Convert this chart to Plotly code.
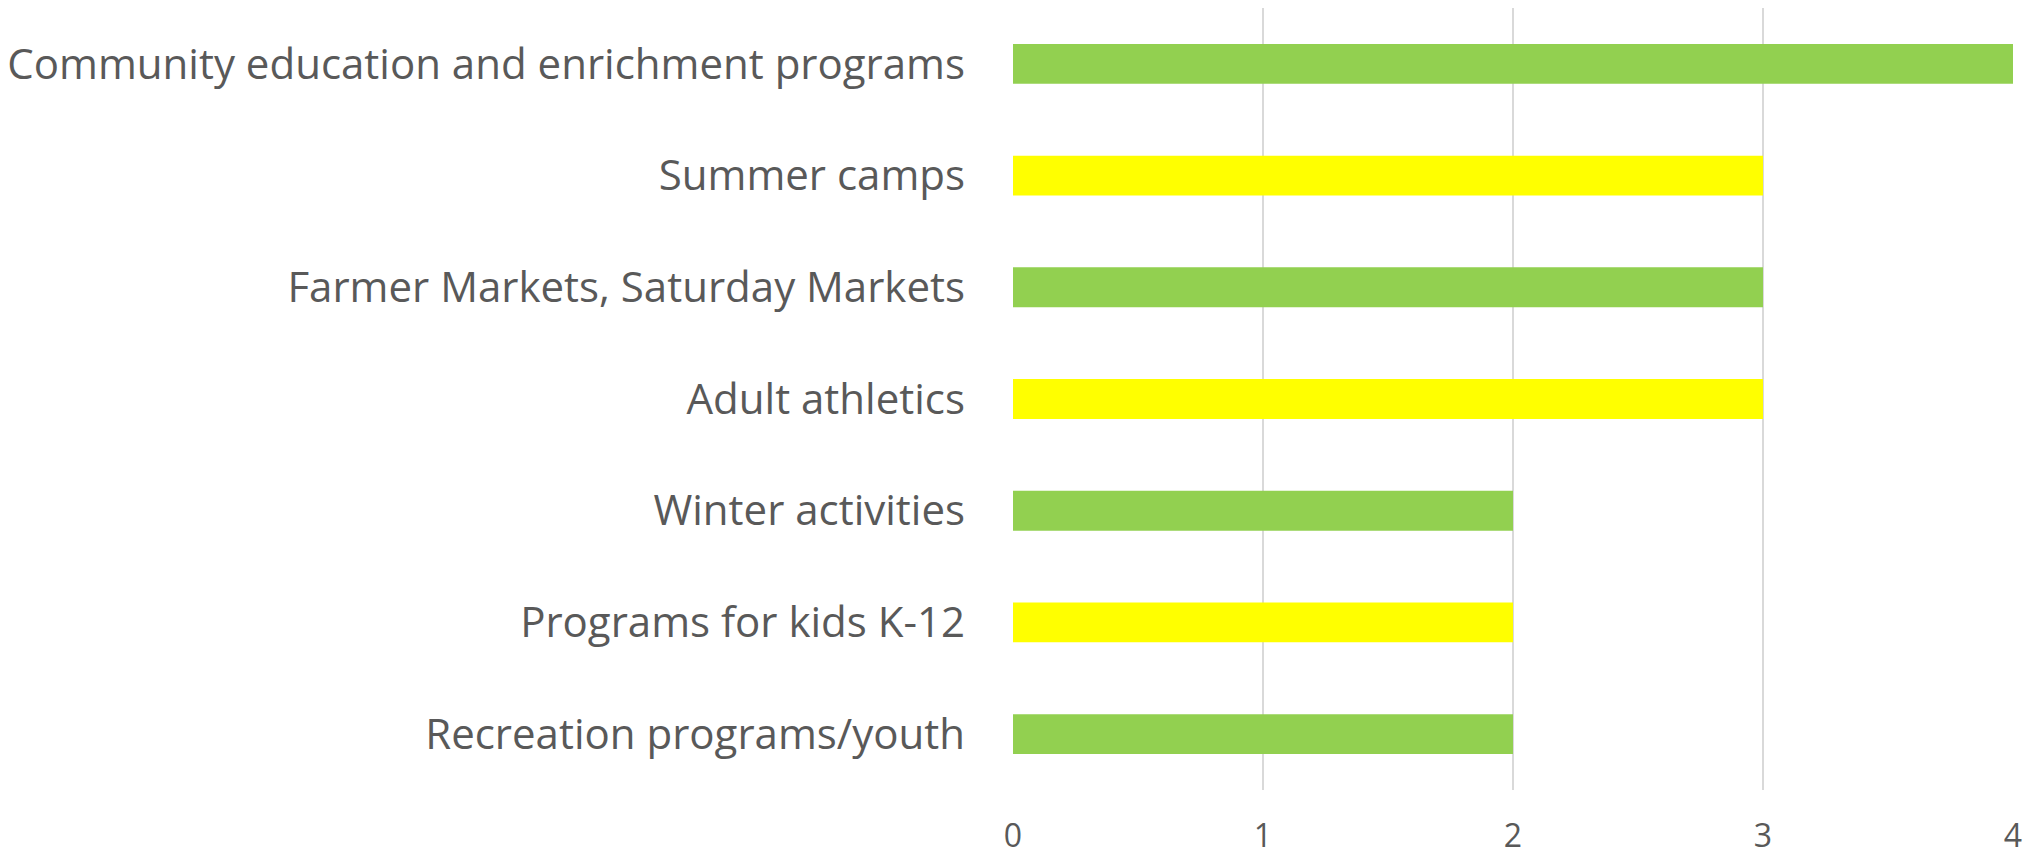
import plotly.graph_objects as go

# categories listed top to bottom as in the chart
programs = [
    "Community education and enrichment programs",
    "Summer camps",
    "Farmer Markets, Saturday Markets",
    "Adult athletics",
    "Winter activities",
    "Programs for kids K-12",
    "Recreation programs/youth",
]
counts = [4, 3, 3, 3, 2, 2, 2]
bar_colors = ["#92D050", "#FFFF00", "#92D050", "#FFFF00", "#92D050", "#FFFF00", "#92D050"]
x_ticks = [0, 1, 2, 3, 4]

fig = go.Figure(go.Bar(
    x=counts,
    y=programs,
    orientation="h",
    marker=dict(color=bar_colors, line=dict(width=0)),
))

# page body adds an 8px offset, margins below account for it
fig.update_layout(
    width=2032,
    height=855,
    margin=dict(l=1005, r=27, t=0, b=73),
    plot_bgcolor="white",
    paper_bgcolor="white",
    bargap=0.643,
    showlegend=False,
    font=dict(family="Open Sans", color="#595959"),
)
fig.update_xaxes(
    range=[0, 4],
    tickvals=x_ticks,
    showgrid=True,
    gridcolor="#D9D9D9",
    gridwidth=2,
    zeroline=False,
    showline=False,
    tickfont=dict(size=32, color="#595959"),
    ticklabelstandoff=24,
)
fig.update_yaxes(
    autorange="reversed",
    showgrid=False,
    showline=False,
    tickfont=dict(size=42, color="#595959"),
    ticklabelstandoff=47,
)

fig.write_html("out.html")
